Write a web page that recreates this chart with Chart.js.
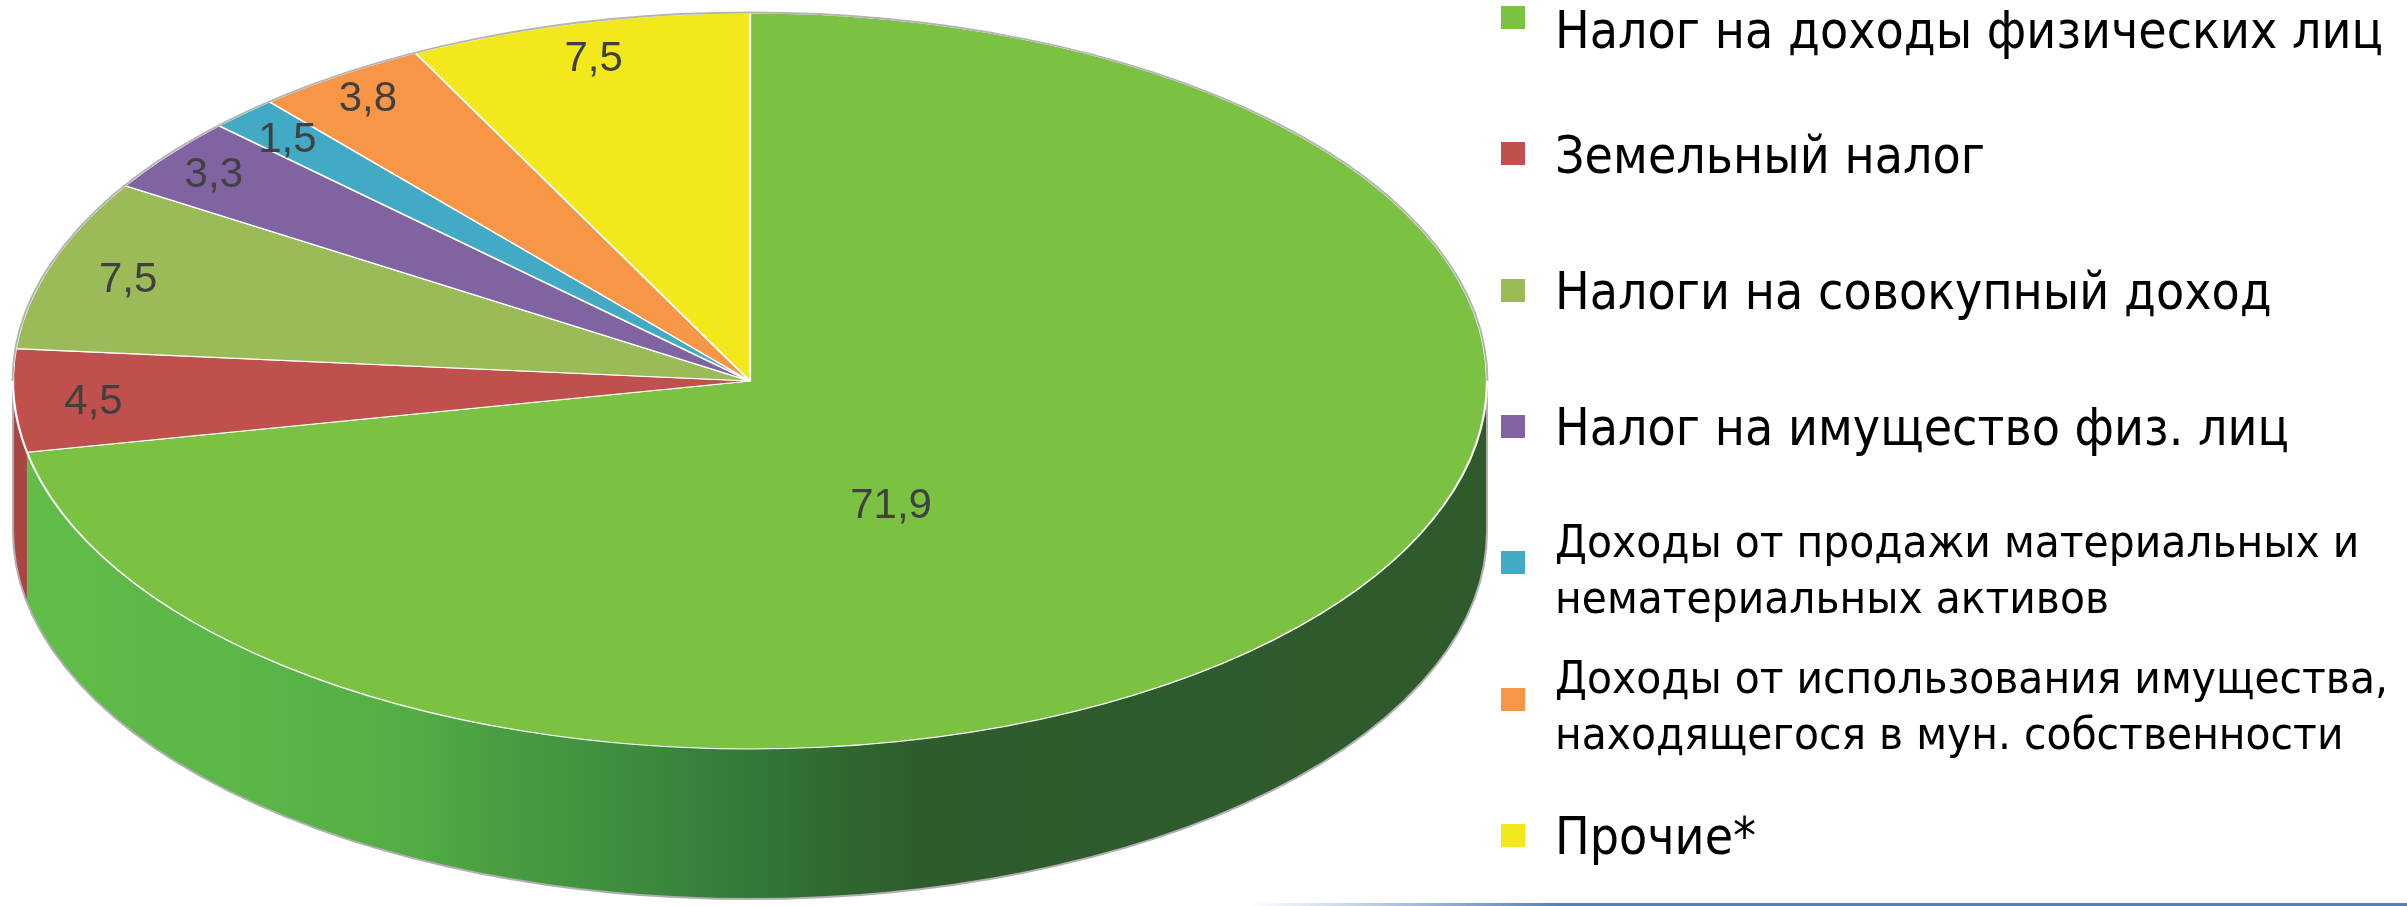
<!DOCTYPE html>
<html>
<head>
<meta charset="utf-8">
<script src="https://cdn.jsdelivr.net/npm/chart.js@4.4.0/dist/chart.umd.min.js"></script>
<style>
html,body{margin:0;padding:0;background:#fff;overflow:hidden}
canvas{display:block}
</style>
</head>
<body>
<canvas id="c" width="2407" height="906" style="width:2407px;height:906px"></canvas>
<script>
// ---------- data ----------
const categories = [
  'Налог на доходы физических лиц',
  'Земельный налог',
  'Налоги на совокупный доход',
  'Налог на имущество физ. лиц',
  ['Доходы от продажи материальных и', 'нематериальных активов'],
  ['Доходы от использования имущества,', 'находящегося в мун. собственности'],
  'Прочие*'
];
const shares = [71.9, 4.5, 7.5, 3.3, 1.5, 3.8, 7.5];

// ---------- styles ----------
const sliceColors = ['#7cc242', '#c0504d', '#9bbb59', '#8064a2', '#43aac6', '#f79646', '#f2e81c'];
const sideColors  = ['gradient', '#a94543', '#7f9a47', '#65508a', '#3590aa', '#d6803a', '#d1c816'];
const labelRadius = [0.383, 0.892, 0.890, 0.923, 0.914, 0.931, 0.909];
const labelAngleShiftDeg = [20.6, 0, 0, 0, 0, 0, 0];
const GEO = { cx: 750, cy: 381, R: 737, ry: 368, depth: 150 };
const K = GEO.ry / GEO.R;

function fmt(v) { return v.toFixed(1).replace('.', ','); }

function visibleRanges(s, e) {
  const out = [];
  for (const sh of [-2 * Math.PI, 0, 2 * Math.PI]) {
    const a = Math.max(s + sh, 0), b = Math.min(e + sh, Math.PI);
    if (b > a) out.push([a, b]);
  }
  return out;
}

const pie3d = {
  id: 'pie3d',
  beforeDatasetsDraw(chart) {
    const ctx = chart.ctx;
    const arcs = chart.getDatasetMeta(0).data;
    if (!arcs.length) return;
    const p0 = arcs[0].getProps(['x', 'y', 'outerRadius']);
    const cx = p0.x, R = p0.outerRadius, ry = R * K, cy = GEO.cy, d = GEO.depth;
    // side walls
    arcs.forEach((arc, i) => {
      const p = arc.getProps(['startAngle', 'endAngle']);
      visibleRanges(p.startAngle, p.endAngle).forEach(([a, b]) => {
        ctx.save();
        ctx.beginPath();
        ctx.ellipse(cx, cy, R, ry, 0, a, b, false);
        ctx.ellipse(cx, cy + d, R, ry, 0, b, a, true);
        ctx.closePath();
        if (sideColors[i] === 'gradient') {
          const g = ctx.createLinearGradient(cx - R, 0, cx + R, 0);
          g.addColorStop(0.00, '#62bd48');
          g.addColorStop(0.16, '#5ab647');
          g.addColorStop(0.26, '#54ae45');
          g.addColorStop(0.34, '#489c42');
          g.addColorStop(0.40, '#41903f');
          g.addColorStop(0.44, '#3c873d');
          g.addColorStop(0.50, '#33793a');
          g.addColorStop(0.56, '#306830');
          g.addColorStop(0.62, '#2e5c2d');
          g.addColorStop(1.00, '#2e5a2c');
          ctx.fillStyle = g;
        } else {
          ctx.fillStyle = sideColors[i];
        }
        ctx.fill();
        ctx.restore();
      });
    });
    // side outline
    ctx.save();
    ctx.strokeStyle = '#b0b0b0';
    ctx.lineWidth = 2;
    ctx.beginPath();
    ctx.moveTo(cx - R, cy);
    ctx.lineTo(cx - R, cy + d);
    ctx.ellipse(cx, cy + d, R, ry, 0, Math.PI, 0, true);
    ctx.lineTo(cx + R, cy);
    ctx.stroke();
    ctx.restore();
    // squash the top face
    ctx.save();
    ctx.translate(0, cy);
    ctx.scale(1, K);
    ctx.translate(0, -p0.y);
  },
  afterDatasetsDraw(chart) {
    const ctx = chart.ctx;
    ctx.restore();
    const arcs = chart.getDatasetMeta(0).data;
    if (!arcs.length) return;
    const p0 = arcs[0].getProps(['x', 'y', 'outerRadius']);
    const cx = p0.x, R = p0.outerRadius, ry = R * K, cy = GEO.cy;
    // back rim outline
    ctx.save();
    ctx.strokeStyle = '#b4b4b4';
    ctx.lineWidth = 2;
    ctx.beginPath();
    ctx.ellipse(cx, cy, R + 0.5, ry + 0.5, 0, Math.PI, 2 * Math.PI, false);
    ctx.stroke();
    ctx.restore();
    // data labels
    ctx.save();
    ctx.fillStyle = '#404040';
    ctx.font = '42px "Liberation Sans", Arial, sans-serif';
    ctx.textAlign = 'center';
    ctx.textBaseline = 'alphabetic';
    arcs.forEach((arc, i) => {
      const p = arc.getProps(['startAngle', 'endAngle', 'x', 'y', 'outerRadius']);
      const mid = (p.startAngle + p.endAngle) / 2 + labelAngleShiftDeg[i] * Math.PI / 180;
      const r = p.outerRadius * labelRadius[i];
      const ux = p.x + r * Math.cos(mid);
      const uy = r * Math.sin(mid);
      const sy = cy + uy * K;
      ctx.fillText(fmt(chart.data.datasets[0].data[i]), ux, sy + 15);
    });
    ctx.restore();
  },
  afterDraw(chart) {
    const ctx = chart.ctx;
    const labels = chart.data.labels;
    const colors = chart.data.datasets[0].backgroundColor;
    ctx.save();
    ctx.font = '51px "DejaVu Sans", sans-serif';
    const sx1 = 828 / ctx.measureText(labels[0]).width;
    ctx.font = '44px "DejaVu Sans", sans-serif';
    const sx2 = 833 / ctx.measureText(labels[5][0]).width;
    const step = 136.33;
    labels.forEach((lab, i) => {
      const top = 6 + i * step;
      ctx.fillStyle = colors[i];
      ctx.fillRect(1501, Math.round(top), 24, 23);
      ctx.fillStyle = '#000';
      ctx.textAlign = 'left';
      ctx.textBaseline = 'alphabetic';
      let lines, base, sx;
      if (Array.isArray(lab)) {
        ctx.font = '44px "DejaVu Sans", sans-serif';
        lines = lab;
        base = [top + 5.5, top + 61.5];
        sx = sx2;
      } else {
        ctx.font = '51px "DejaVu Sans", sans-serif';
        lines = [lab];
        base = [top + 30.5 + (i === 0 ? 11 : 0)];
        sx = sx1;
      }
      lines.forEach((ln, j) => {
        ctx.save();
        ctx.translate(1555, base[j]);
        ctx.scale(sx, 1);
        ctx.fillText(ln, 0, 0);
        ctx.restore();
      });
    });
    // slide decoration line bottom-right
    const g = ctx.createLinearGradient(1250, 0, 1560, 0);
    g.addColorStop(0, 'rgba(79,129,189,0)');
    g.addColorStop(1, 'rgba(79,129,189,1)');
    ctx.fillStyle = g;
    ctx.fillRect(1250, 903, 1157, 3);
    ctx.restore();
  }
};

new Chart(document.getElementById('c'), {
  type: 'pie',
  data: {
    labels: categories,
    datasets: [{
      data: shares,
      backgroundColor: sliceColors,
      borderColor: '#ffffff',
      borderWidth: 2.2,
      radius: GEO.R,
      clip: false
    }]
  },
  options: {
    responsive: false,
    animation: false,
    devicePixelRatio: 1,
    layout: { padding: { left: GEO.cx - GEO.R, right: 2407 - (GEO.cx + GEO.R), top: 0, bottom: 0 } },
    plugins: { legend: { display: false }, tooltip: { enabled: false } },
    events: []
  },
  plugins: [pie3d]
});
</script>
</body>
</html>
